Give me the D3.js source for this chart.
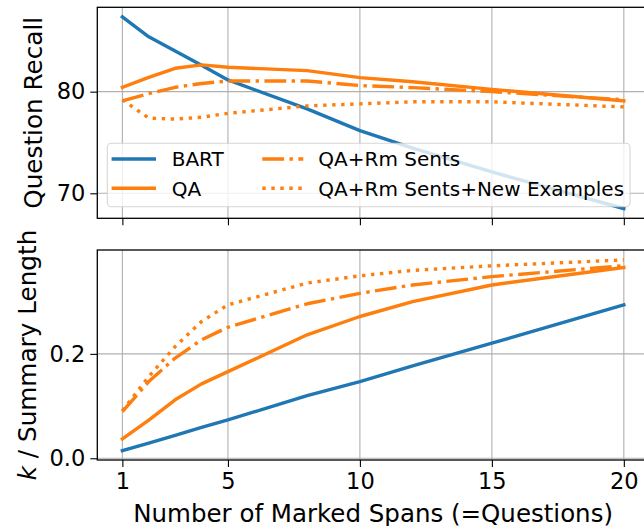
<!DOCTYPE html>
<html>
<head>
<meta charset="utf-8">
<script src="https://cdn.jsdelivr.net/npm/d3@7"></script>
<style>
  html, body { margin: 0; padding: 0; background: #fff; overflow: hidden; }
  svg { display: block; font-family: "DejaVu Sans", sans-serif; }
</style>
</head>
<body>
<svg id="chart" width="644" height="526"></svg>
<script>
// ---- data ----
const spans = [1, 2, 3, 4, 5, 8, 10, 12, 15, 20];
const xTicks = [1, 5, 10, 15, 20];

// Question Recall (top)
const recallBART   = [87.35, 85.4, 84.0, 82.6, 81.15, 78.3, 76.16, 74.45, 72.1, 68.5];
const recallQA     = [80.43, 81.4, 82.3, 82.63, 82.4, 82.07, 81.38, 80.98, 80.23, 79.1];
const recallQARm   = [79.1, 79.8, 80.43, 80.8, 81.05, 81.05, 80.6, 80.4, 80.0, 79.2];
const recallQARmNew= [79.2, 77.4, 77.3, 77.48, 77.87, 78.6, 78.8, 79.0, 79.0, 78.5];
const recallTicks = [70, 80];

// k / Summary Length (bottom)
const lenBART   = [0.0146, 0.029, 0.044, 0.059, 0.0734, 0.12, 0.147, 0.177, 0.2205, 0.294];
const lenQA     = [0.037, 0.073, 0.112, 0.1425, 0.166, 0.2365, 0.2716, 0.300, 0.332, 0.3655];
const lenQARm   = [0.0894, 0.147, 0.192, 0.227, 0.251, 0.296, 0.316, 0.332, 0.348, 0.369];
const lenQARmNew= [0.091, 0.1565, 0.214, 0.262, 0.294, 0.3356, 0.3496, 0.360, 0.3687, 0.380];
const lenTicks = [0.0, 0.2];

const seriesNames = ["BART", "QA", "QA+Rm Sents", "QA+Rm Sents+New Examples"];

// ---- styles ----
const BLUE = "#1f77b4", ORANGE = "#ff7f0e";
const LW = 3.4;
const styles = [
  { color: BLUE, dash: null },
  { color: ORANGE, dash: null },
  { color: ORANGE, dash: [6.4*LW, 1.6*LW, 1.0*LW, 1.6*LW] },
  { color: ORANGE, dash: [1.0*LW, 1.65*LW] }
];

const svg = d3.select("#chart");
const FONT = "DejaVu Sans, sans-serif";

const left = 97.3, right = 648.9;
const x = d3.scaleLinear().domain([0.05, 20.95]).range([left, right]);

const panels = [
  { top: 7.3, bottom: 218.3, domain: [67.54, 88.3], ticks: recallTicks,
    fmt: d => d3.format("d")(d), data: [recallBART, recallQA, recallQARm, recallQARmNew],
    xlabels: false, label: "Question Recall", labelX: 42 },
  { top: 250, bottom: 460, domain: [-0.0033, 0.399], ticks: lenTicks,
    fmt: d => d3.format(".1f")(d), data: [lenBART, lenQA, lenQARm, lenQARmNew],
    xlabels: true, label: null, labelX: 36 }
];

panels.forEach((p, pi) => {
  const y = d3.scaleLinear().domain(p.domain).range([p.bottom, p.top]);
  const g = svg.append("g");
  const clipId = "clip" + pi;
  svg.append("clipPath").attr("id", clipId).append("rect")
    .attr("x", left).attr("y", p.top).attr("width", right - left).attr("height", p.bottom - p.top);

  // grid
  g.append("g").selectAll("line").data(xTicks).join("line")
    .attr("x1", d => x(d)).attr("x2", d => x(d))
    .attr("y1", p.top).attr("y2", p.bottom)
    .attr("stroke", "#b0b0b0").attr("stroke-width", 1.1);
  g.append("g").selectAll("line").data(p.ticks).join("line")
    .attr("x1", left).attr("x2", right)
    .attr("y1", d => y(d)).attr("y2", d => y(d))
    .attr("stroke", "#b0b0b0").attr("stroke-width", 1.1);

  // lines
  const line = d3.line().x((d, i) => x(spans[i])).y(d => y(d));
  const lg = g.append("g").attr("clip-path", `url(#${clipId})`);
  p.data.forEach((vals, si) => {
    const s = styles[si];
    lg.append("path").datum(vals)
      .attr("d", line)
      .attr("fill", "none")
      .attr("stroke", s.color)
      .attr("stroke-width", LW)
      .attr("stroke-linejoin", "round")
      .attr("stroke-linecap", s.dash ? "butt" : "square")
      .attr("stroke-dasharray", s.dash ? s.dash.join(",") : null);
  });

  // axes
  const yAxis = d3.axisLeft(y).tickValues(p.ticks).tickFormat(p.fmt).tickSize(7).tickPadding(5);
  const ya = g.append("g").attr("transform", `translate(${left},0)`).call(yAxis);
  ya.select(".domain").remove();
  ya.selectAll("line").attr("stroke", "#000").attr("stroke-width", 1.1);
  ya.selectAll("text").attr("font-size", 22.5).attr("font-family", FONT).attr("fill", "#000");

  const xAxis = d3.axisBottom(x).tickValues(xTicks).tickSize(7).tickPadding(6)
    .tickFormat(p.xlabels ? d3.format("d") : () => "");
  const xa = g.append("g").attr("transform", `translate(0,${p.bottom})`).call(xAxis);
  xa.select(".domain").remove();
  xa.selectAll("line").attr("stroke", "#000").attr("stroke-width", 1.1);
  xa.selectAll("text").attr("font-size", 22.5).attr("font-family", FONT).attr("fill", "#000");

  // spines
  g.append("rect").attr("x", left).attr("y", p.top)
    .attr("width", right - left).attr("height", p.bottom - p.top)
    .attr("fill", "none").attr("stroke", "#000").attr("stroke-width", 1.3);

  // y label
  const cy = (p.top + p.bottom) / 2;
  const t = svg.append("text")
    .attr("transform", `translate(${p.labelX},${cy}) rotate(-90)`)
    .attr("text-anchor", "middle")
    .attr("font-size", 24.7).attr("font-family", FONT).attr("fill", "#000");
  if (p.label) {
    t.text(p.label);
  } else {
    t.append("tspan").attr("font-style", "italic").text("k");
    t.append("tspan").text(" / Summary Length");
  }

  // legend in top panel
  if (pi === 0) {
    const lgd = svg.append("g");
    lgd.append("rect").attr("x", 107.3).attr("y", 143.3)
      .attr("width", 630 - 107.3).attr("height", 206.7 - 143.3)
      .attr("rx", 4).attr("ry", 4)
      .attr("fill", "#fff").attr("fill-opacity", 0.8)
      .attr("stroke", "#cccccc").attr("stroke-opacity", 0.8).attr("stroke-width", 1.1);
    const cols = [{ hx: 113.3, tx: 171.7 }, { hx: 262.3, tx: 318.3 }];
    const rows = [159, 188.3];
    seriesNames.forEach((name, i) => {
      const c = cols[Math.floor(i / 2)], ry = rows[i % 2];
      const s = styles[i];
      lgd.append("line").attr("x1", c.hx).attr("x2", c.hx + 41).attr("y1", ry).attr("y2", ry)
        .attr("stroke", s.color).attr("stroke-width", LW)
        .attr("stroke-linecap", s.dash ? "butt" : "square")
        .attr("stroke-dasharray", s.dash ? s.dash.join(",") : null);
      lgd.append("text").attr("x", c.tx).attr("y", ry + 7.2)
        .attr("font-size", 20).attr("font-family", FONT).attr("fill", "#000").text(name);
    });
  }
});

// x label
svg.append("text").attr("x", (left + right) / 2).attr("y", 521.5)
  .attr("text-anchor", "middle").attr("font-size", 24.5).attr("font-family", FONT)
  .attr("fill", "#000").text("Number of Marked Spans (=Questions)");
</script>
</body>
</html>
